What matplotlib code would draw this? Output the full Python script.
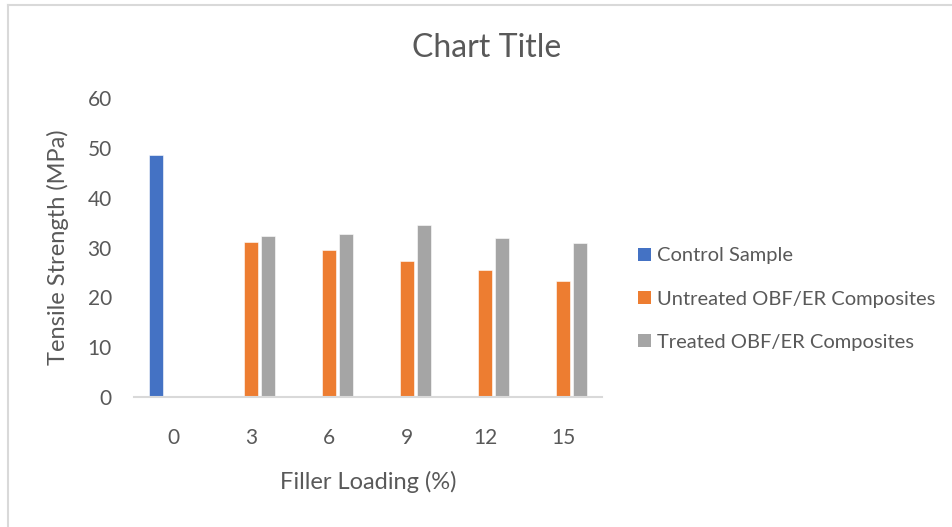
import numpy as np
import matplotlib
matplotlib.use("Agg")
import matplotlib.pyplot as plt
from matplotlib.patches import Patch
from matplotlib.lines import Line2D

plt.rcParams.update({
    "font.family": ["Lato", "DejaVu Sans"],
    "text.color": "#595959",
    "axes.labelcolor": "#595959",
    "xtick.color": "#595959",
    "ytick.color": "#595959",
})

# filler loading (%) and tensile strength (MPa)
loading = ["0", "3", "6", "9", "12", "15"]
control = [48.6, 0, 0, 0, 0, 0]
untreated = [0, 31.2, 29.4, 27.3, 25.5, 23.2]
treated = [0, 32.3, 32.7, 34.6, 31.9, 31.0]
yticks = [0, 10, 20, 30, 40, 50, 60]

names = ["Control Sample", "Untreated OBF/ER Composites", "Treated OBF/ER Composites"]
colors = ["#4472C4", "#ED7D31", "#A5A5A5"]

W, H = 953, 527
fig = plt.figure(figsize=(W / 100, H / 100), dpi=100)
ax = fig.add_axes([134 / W, 130 / H, 468 / W, 299 / H])

x = np.arange(len(loading))
bw, off = 0.18, 0.22
for vals, dx, c, n in zip([control, untreated, treated], [-off, 0, off], colors, names):
    ax.bar(x + dx, vals, bw, color=c, label=n, edgecolor="white", linewidth=0.4)

ax.set_xlim(-0.5, len(loading) - 0.5)
ax.set_ylim(0, 60)
ax.set_xticks(x)
ax.set_xticklabels(loading)
ax.set_yticks(yticks)
ax.tick_params(axis="both", length=0, labelsize=15)
ax.tick_params(axis="x", pad=22)
ax.tick_params(axis="y", pad=16)
for s in ["top", "right", "left"]:
    ax.spines[s].set_visible(False)
ax.spines["bottom"].set_color("#D9D9D9")
ax.spines["bottom"].set_linewidth(1.5)

ax.set_xlabel("Filler Loading (%)", fontsize=17, labelpad=17)
ax.set_ylabel("Tensile Strength (MPa)", fontsize=17, labelpad=13)
fig.text(487 / W, 1 - 48 / H, "Chart Title", fontsize=23, ha="center", va="center",
         color="#595959")

handles = [Patch(facecolor=c) for c in colors]
fig.legend(handles, names, loc="center left", bbox_to_anchor=(638 / W, 1 - 299 / H),
           frameon=False, fontsize=14.5, handlelength=0.65, handleheight=0.65,
           handletextpad=0.3, labelspacing=1.3, borderpad=0, borderaxespad=0)

# chart area border (left and top edges)
fig.add_artist(Line2D([8.5 / W, 8.5 / W], [0, 1 - 5 / H], color="#D9D9D9", lw=1.5))
fig.add_artist(Line2D([8.5 / W, 1], [1 - 5 / H, 1 - 5 / H], color="#D9D9D9", lw=1.5))

fig.savefig("out.png", dpi=100)
